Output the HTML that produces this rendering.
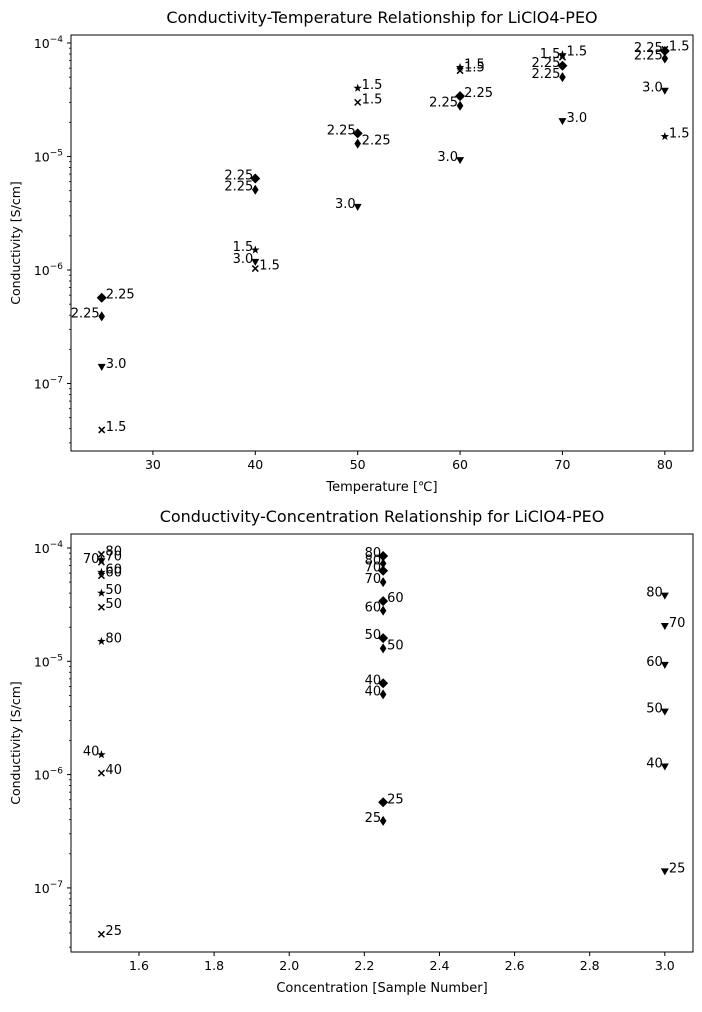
<!DOCTYPE html>
<html><head><meta charset="utf-8"><style>
body{margin:0;background:#fff}
svg text{font-family:"DejaVu Sans","Liberation Sans",sans-serif;fill:#000}
</style></head><body>
<svg id="c" width="702" height="1007" xmlns="http://www.w3.org/2000/svg"></svg>
<script>
const temps=[25,40,50,60,70,80];
const seriesNames=["1.5","1.5","2.25","2.25","3.0"];
const seriesConc=[1.5,1.5,2.25,2.25,3.0];
const seriesMarkers=["x","star","D","d","v"];
const sA=[3.9e-8,1.03e-6,3.0e-5,5.7e-5,7.5e-5,8.8e-5];
const sB=[null,1.5e-6,4.0e-5,6.1e-5,7.9e-5,1.5e-5];
const sC=[5.7e-7,6.4e-6,1.6e-5,3.4e-5,6.3e-5,8.5e-5];
const sD=[3.9e-7,5.1e-6,1.3e-5,2.8e-5,5.0e-5,7.3e-5];
const sE=[1.4e-7,1.18e-6,3.6e-6,9.3e-6,2.05e-5,3.8e-5];
const sides=[["R","R","R","R","L","R"],["R","L","R","R","R","R"],["R","L","L","R","L","L"],["L","L","R","L","L","L"],["R","L","L","L","R","L"]];
const xTicksTop=[30,40,50,60,70,80];
const xTicksBot=[1.6,1.8,2.0,2.2,2.4,2.6,2.8,3.0];
const yTickExps=[-7,-6,-5,-4];
const allS=[sA,sB,sC,sD,sE];
const svg=document.getElementById('c');
const NS="http://www.w3.org/2000/svg";
function el(t,a,p){const e=document.createElementNS(NS,t);for(const k in a)e.setAttribute(k,a[k]);(p||svg).appendChild(e);return e;}
function marker(type,x,y,g){
  let e;
  if(type==="x"){e=el('path',{d:`M${x-3},${y-3}L${x+3},${y+3}M${x-3},${y+3}L${x+3},${y-3}`,stroke:'#000','stroke-width':1.5},g);}
  else if(type==="star"){let p=[];for(let i=0;i<10;i++){const r=i%2?1.8:4.5,a=-Math.PI/2+i*Math.PI/5;p.push((x+r*Math.cos(a)).toFixed(2)+","+(y+r*Math.sin(a)).toFixed(2));}e=el('polygon',{points:p.join(' ')},g);}
  else if(type==="D"){e=el('polygon',{points:`${x},${y-5} ${x+5},${y} ${x},${y+5} ${x-5},${y}`},g);}
  else if(type==="d"){e=el('polygon',{points:`${x},${y-5} ${x+3.3},${y} ${x},${y+5} ${x-3.3},${y}`},g);}
  else {e=el('polygon',{points:`${x-4},${y-3} ${x+4},${y-3} ${x},${y+4}`},g);}
  return e;
}
function panel(cfg){
  const {L,R,T,B,xmin,xmax,yTop,decade,title,xlabel,xTicks,xfmt,name}=cfg;
  const g=el('g',{});
  
  
  const sx=v=>L+(v-xmin)/(xmax-xmin)*(R-L);
  const sy=v=>yTop+(-4-Math.log10(v))*decade;
  const t=el('text',{x:(L+R)/2,y:T-12,'text-anchor':'middle','font-size':16},g);t.textContent=title;
  
  el('rect',{x:L,y:T,width:R-L,height:B-T,fill:'none',stroke:'#000','stroke-width':1},g);
  xTicks.forEach(v=>{const x=sx(v);el('line',{x1:x,x2:x,y1:B,y2:B+4,stroke:'#000'},g);
    const tx=el('text',{x:x,y:B+18,'text-anchor':'middle','font-size':12.5},g);tx.textContent=xfmt(v);
    });
  yTickExps.forEach(e=>{const y=yTop+(-4-e)*decade;el('line',{x1:L-4,x2:L,y1:y,y2:y,stroke:'#000'},g);
    const tx=el('text',{x:L-8,y:y+5,'text-anchor':'end','font-size':12.5},g);
    tx.innerHTML='10<tspan dy="-6" font-size="9">−'+(-e)+'</tspan>';
    
    for(let m=2;m<10;m++){const v=Math.pow(10,e)*m;const yy=sy(v);if(yy>T&&yy<B)el('line',{x1:L-2,x2:L,y1:yy,y2:yy,stroke:'#000','stroke-width':0.8},g);}
    if(e===-7){for(let m=2;m<10;m++){const yy=sy(Math.pow(10,-8)*m);if(yy>T&&yy<B)el('line',{x1:L-2,x2:L,y1:yy,y2:yy,stroke:'#000','stroke-width':0.8},g);}}
  });
  const xl=el('text',{x:(L+R)/2,y:B+40,'text-anchor':'middle','font-size':13},g);xl.textContent=xlabel;
  
  const yc=(T+B)/2;const yl=el('text',{x:20,y:yc,'text-anchor':'middle','font-size':12.5,transform:`rotate(-90 20 ${yc})`},g);yl.textContent='Conductivity [S/cm]';
  
  allS.forEach((s,si)=>{s.forEach((v,i)=>{if(v==null)return;
    const xv=cfg.xOf(si,i);const x=sx(xv),y=sy(v);
    const m=marker(seriesMarkers[si],x,y,g);
    
    const lab=cfg.labOf(si,i);const side=sides[si][i];
    const tx=el('text',{x:side==="R"?x+4:x-2,y:y+1,'text-anchor':side==="R"?'start':'end','font-size':13},g);tx.textContent=lab;
    
  });});
}
panel({name:'temperature-panel',L:71,R:693,T:35,B:451,xmin:22,xmax:82.75,yTop:43,decade:113.5,
  title:'Conductivity-Temperature Relationship for LiClO4-PEO',xlabel:'Temperature [℃]',xTicks:xTicksTop,xfmt:v=>String(v),
  xOf:(si,i)=>temps[i],labOf:(si,i)=>seriesNames[si]});
panel({name:'concentration-panel',L:71,R:693,T:534,B:952,xmin:1.419,xmax:3.075,yTop:548,decade:113.3,
  title:'Conductivity-Concentration Relationship for LiClO4-PEO',xlabel:'Concentration [Sample Number]',xTicks:xTicksBot,xfmt:v=>v.toFixed(1),
  xOf:(si,i)=>seriesConc[si],labOf:(si,i)=>String(temps[i])});
</script>
</body></html>
